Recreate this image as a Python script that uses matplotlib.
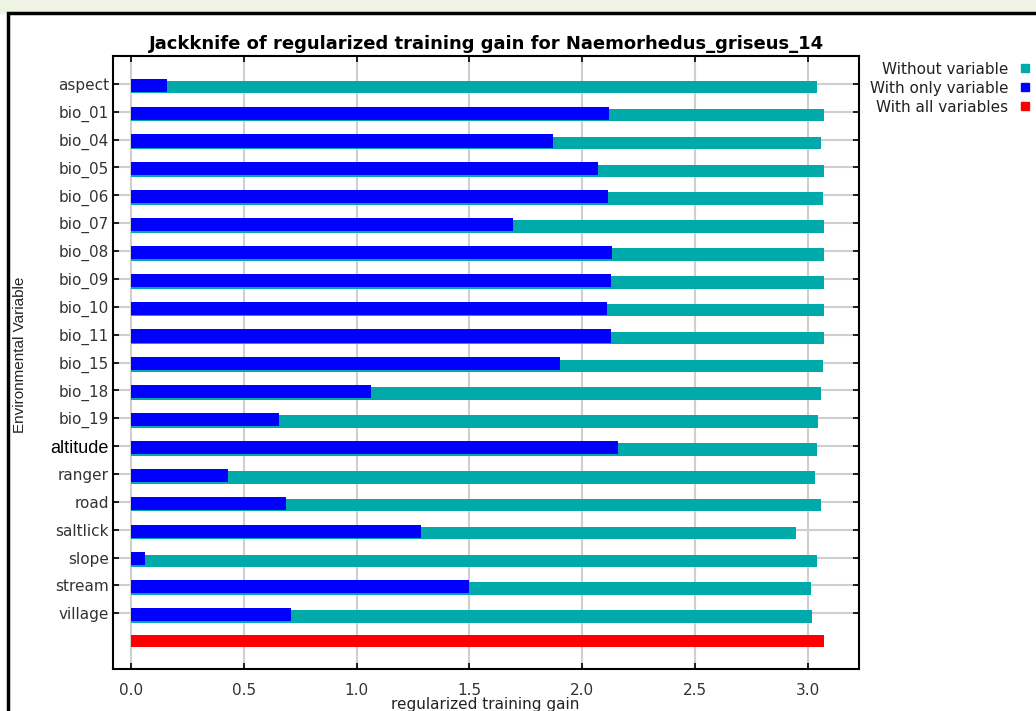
import matplotlib.pyplot as plt
import numpy as np
from matplotlib.patches import Rectangle

variables = ['aspect', 'bio_01', 'bio_04', 'bio_05', 'bio_06', 'bio_07', 'bio_08',
             'bio_09', 'bio_10', 'bio_11', 'bio_15', 'bio_18', 'bio_19', 'altitude',
             'ranger', 'road', 'saltlick', 'slope', 'stream', 'village']
without_var = [3.041, 3.073, 3.060, 3.073, 3.067, 3.073, 3.073, 3.073, 3.073, 3.073,
               3.067, 3.060, 3.047, 3.041, 3.033, 3.060, 2.949, 3.041, 3.014, 3.020]
only_var = [0.16, 2.12, 1.872, 2.069, 2.114, 1.693, 2.134, 2.128, 2.108, 2.128,
            1.903, 1.062, 0.655, 2.16, 0.431, 0.687, 1.285, 0.063, 1.50, 0.71]
all_vars = 3.073

legend_labels = ['Without variable', 'With only variable', 'With all variables']
teal, blue, red = '#00aaaa', '#0000ff', '#ff0000'
legend_colors = [teal, blue, red]

W, H = 1036, 711
fig = plt.figure(figsize=(W / 100, H / 100), dpi=100)

# faded strip at the very top + black frame of the panel
fig.patches.append(Rectangle((0, 1 - 13 / H), 1, 13 / H, transform=fig.transFigure,
                             color='#eef3e4', zorder=0))
fig.patches.append(Rectangle((8 / W, -0.05), 1.2, 1.05 - 13 / H, transform=fig.transFigure,
                             fill=False, edgecolor='black', lw=2.5, zorder=1))

ax = fig.add_axes([113 / W, 1 - 669 / H, (859 - 113) / W, (669 - 56) / H])
n = len(variables)
y = np.arange(n)
ax.barh(y + 0.12, without_var, height=0.45, color=teal, zorder=2)
ax.barh(y + 0.05, only_var, height=0.47, color=blue, zorder=3)
ax.barh([n], [all_vars], height=0.45, color=red, zorder=2)

ax.set_xlim(-0.08, 3.227)
ax.set_ylim(21.0, -1.0)
ax.set_xticks(np.arange(0, 3.01, 0.5))
ax.set_xticklabels(['%.1f' % v for v in np.arange(0, 3.01, 0.5)])
ax.set_yticks(y)
ax.set_yticklabels(variables)
ax.grid(True, color='#cfcfcf', lw=1.5)
ax.set_axisbelow(True)
ax.tick_params(direction='in', top=True, right=True, length=4, width=1.2,
               labelsize=11, labelcolor='#333333')
ax.tick_params(axis='x', pad=10)
ax.tick_params(axis='y', pad=3)
for sp in ax.spines.values():
    sp.set_linewidth(1.5)

# altitude label is drawn in a different font in the original
for lab in ax.get_yticklabels():
    if lab.get_text() == 'altitude':
        lab.set_family('Liberation Sans')
        lab.set_fontsize(13)
        lab.set_color('black')

ax.set_title('Jackknife of regularized training gain for Naemorhedus_griseus_14',
             fontsize=13, fontweight='bold', pad=5)
fig.text(485 / W, 1 - 704 / H, 'regularized training gain', ha='center', va='center',
         fontsize=11, color='#222222')
fig.text(20 / W, 1 - 355 / H, 'Environmental Variable', rotation=90, ha='center',
         va='center', fontsize=11, family=['Liberation Sans Narrow', 'Liberation Sans'],
         color='#222222')

for i, (lab, col) in enumerate(zip(legend_labels, legend_colors)):
    yc = 69 + i * 19
    fig.text(1008 / W, 1 - yc / H, lab, ha='right', va='center', fontsize=11,
             color='#222222')
    fig.patches.append(Rectangle((1021 / W, 1 - (yc + 3) / H), 8 / W, 8 / H,
                                 transform=fig.transFigure, color=col))

fig.savefig('out.png', dpi=100)
